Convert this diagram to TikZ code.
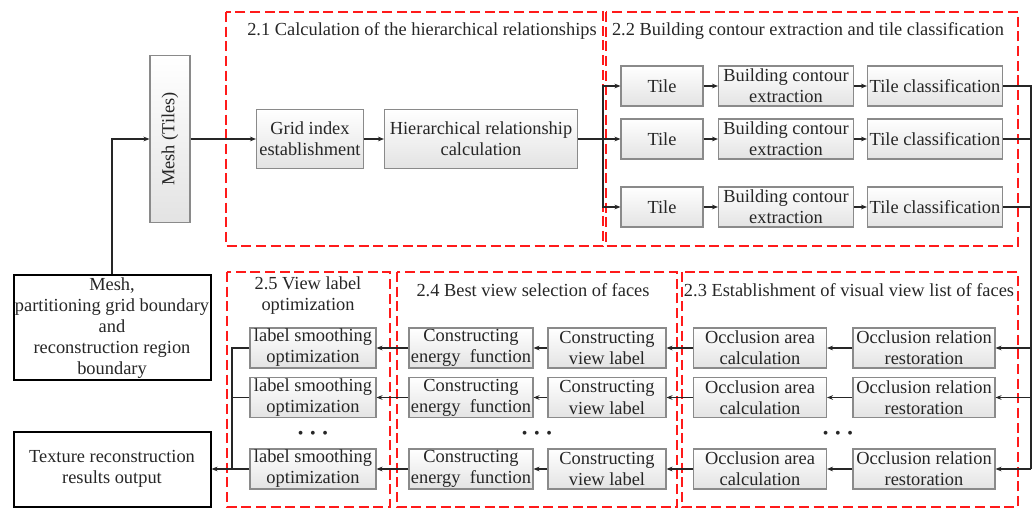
\documentclass[tikz,border=0pt]{standalone}
\usepackage{fontspec}
\setmainfont{Liberation Serif}
\usetikzlibrary{arrows.meta,positioning}
\definecolor{tcRed}{HTML}{FF1A1A}
\definecolor{tcText}{HTML}{262626}
\definecolor{tcEdge}{HTML}{8A8A8A}
\tikzset{
  tcnode/.style={
    align=center, inner sep=0pt, text=tcText, font=\fontsize{13.8}{15.8}\selectfont
  },
  procbox/.style={tcnode, draw=tcEdge, line width=0.8pt, top color=white, bottom color=black!11,
    minimum height=30pt},
  iobox/.style={tcnode, draw=black, line width=1.5pt, fill=white, minimum width=147.75pt},
  stage/.style={draw=tcRed, line width=1.5pt, dash pattern=on 7.5pt off 3.5pt},
  stagetitle/.style={tcnode, inner sep=0pt},
  flow/.style={-{Stealth[length=4.5pt, width=3.5pt]}, line width=0.9pt, black!85},
  link/.style={line width=0.9pt, black!85},
  dots/.style={tcnode, font=\fontsize{12}{12}\selectfont}
}
\newcommand{\tcdots}{\textbullet\hspace{5pt}\textbullet\hspace{5pt}\textbullet}
\begin{document}
\begin{tikzpicture}[x=0.75pt, y=-0.75pt]
  \useasboundingbox (0,0) rectangle (1035,509);
  % stage frames
  \draw[stage] (226,12) rectangle (603,246);
  \draw[stage] (606,12) rectangle (1018,246);
  \draw[stage] (227,272) rectangle (390,507);
  \draw[stage] (397,272) rectangle (677,507);
  \draw[stage] (682,272) rectangle (1018,507);
  \node[stagetitle] (t21) at (422,31) {2.1 Calculation of the hierarchical relationships};
  \node[stagetitle] (t22) at (808,31) {2.2 Building contour extraction and tile classification};
  \node[stagetitle] (t25) at (308,296) {2.5 View label\\optimization};
  \node[stagetitle] (t24) at (533,290) {2.4 Best view selection of faces};
  \node[stagetitle] (t23) at (849,290) {2.3 Establishment of visual view list of faces};

  % inputs and outputs
  \node[iobox, minimum height=78.75pt] (inbox) at (112,328) {Mesh,\\partitioning grid boundary\\and\\reconstruction region\\boundary};
  \node[iobox, minimum height=56.25pt] (outbox) at (112,469) {Texture reconstruction\\results output};
  \node[procbox, rotate=90, minimum width=125.25pt, minimum height=30pt] (mtiles) at (170,139) {Mesh (Tiles)};

  % 2.1
  \node[procbox, minimum width=80.25pt, minimum height=44.25pt] (grid) at (310,139) {Grid index\\establishment};
  \node[procbox, minimum width=144.75pt, minimum height=44.25pt] (hier) at (481,139) {Hierarchical relationship\\calculation};

  % 2.2
  \foreach \r/\y in {A/86, B/139, C/207} {
    \node[procbox, minimum width=61.5pt] (tile\r) at (662,\y) {Tile};
    \node[procbox, minimum width=101.25pt] (bce\r) at (786,\y) {Building contour\\extraction};
    \node[procbox, minimum width=101.25pt] (tcl\r) at (935,\y) {Tile classification};
    \draw[flow] (tile\r) -- (bce\r);
    \draw[flow] (bce\r) -- (tcl\r);
  }

  % 2.3, 2.4, 2.5
  \foreach \r/\y in {A/348, B/397.5, C/469} {
    \node[procbox, minimum width=106.5pt] (orr\r) at (924,\y) {Occlusion relation\\restoration};
    \node[procbox, minimum width=99.75pt] (oac\r) at (760,\y) {Occlusion area\\calculation};
    \node[procbox, minimum width=88.5pt] (cvl\r) at (607,\y) {Constructing\\view label};
    \node[procbox, minimum width=93pt] (cef\r) at (471,\y) {Constructing\\energy~ function};
    \node[procbox, minimum width=94.5pt] (lso\r) at (313,\y) {label smoothing\\optimization};
    \draw[flow] (orr\r) -- (oac\r);
    \draw[flow] (oac\r) -- (cvl\r);
    \draw[flow] (cvl\r) -- (cef\r);
    \draw[flow] (cef\r) -- (lso\r);
  }
  \node[dots] (dots23) at (838,435) {\tcdots};
  \node[dots] (dots24) at (537,435) {\tcdots};
  \node[dots] (dots25) at (313,435) {\tcdots};

  % connectors
  \coordinate (split) at (603,139);
  \coordinate (rtop) at (1031,86);
  \coordinate (rbot) at (1031,469);
  \coordinate (lmerge) at (232,469);
  \draw[flow] (inbox.north) |- (mtiles.north);
  \draw[flow] (mtiles.south) -- (grid);
  \draw[flow] (grid) -- (hier);
  \draw[link] (hier) -- (split);
  \draw[flow] (split) |- (tileA);
  \draw[flow] (split) -- (tileB);
  \draw[flow] (split) |- (tileC);
  \draw[link] (tclA) -- (rtop) -- (rbot);
  \draw[link] (tclB) -- (rtop |- tclB);
  \draw[link] (tclC) -- (rtop |- tclC);
  \draw[flow] (rtop |- orrA) -- (orrA);
  \draw[flow] (rtop |- orrB) -- (orrB);
  \draw[flow] (rbot) -- (orrC);
  \draw[link] (lsoA) -| (lmerge);
  \draw[link] (lsoB) -| (lmerge);
  \draw[flow] (lsoC) -- (outbox);
\end{tikzpicture}
\end{document}
